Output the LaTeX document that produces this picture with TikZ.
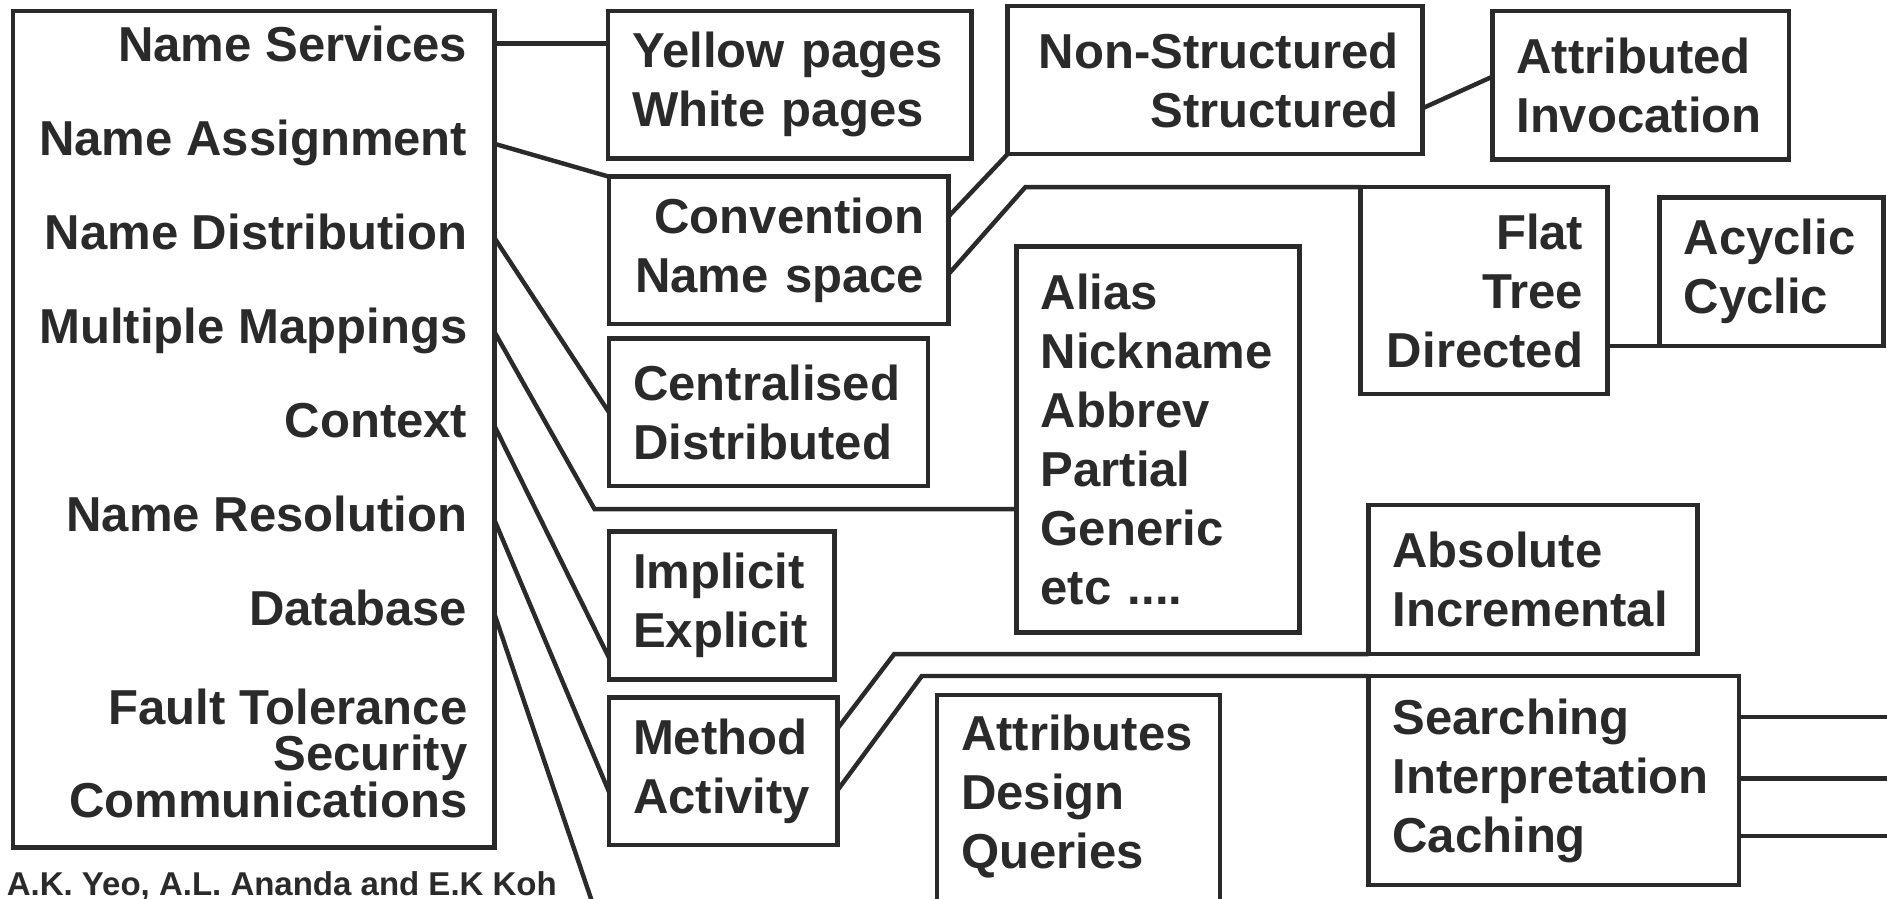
\documentclass[tikz,border=0pt]{standalone}
\usepackage{fontspec}
\setmainfont{Liberation Sans}
\definecolor{ink}{HTML}{2A2A2A}
\newcommand{\boxfont}{\fontsize{11.6}{13.94}\selectfont\bfseries}

\begin{document}
\begin{tikzpicture}[
  catbox/.style={rectangle,draw=ink,line width=1.05pt,outer sep=0pt,anchor=north west,inner xsep=0.2cm,inner ysep=0pt,align=#1,text=ink,font=\boxfont},
  catbox/.default=left,
  lbl/.style={anchor=base east,inner sep=0pt,text=ink,font=\boxfont},
  link/.style={draw=ink,line width=1.05pt},
]
\useasboundingbox (0,0) rectangle (15.68,-7.47);
\clip (0,0) rectangle (15.68,-7.47);

% === Main list of name service issues ===
\node[rectangle,draw=ink,line width=1.05pt,outer sep=0pt,anchor=north west,inner sep=0pt,minimum width=4cm,minimum height=6.95cm] (main) at (0.11,-0.091) {};

\node[lbl] (lsrv) at (3.89,-0.507) {Name Services};
\node[lbl] (lasg) at (3.89,-1.288) {Name Assignment};
\node[lbl] (ldst) at (3.89,-2.072) {Name Distribution};
\node[lbl] (lmap) at (3.89,-2.853) {Multiple Mappings};
\node[lbl] (lctx) at (3.89,-3.635) {Context};
\node[lbl] (lres) at (3.89,-4.417) {Name Resolution};
\node[lbl] (ldb)  at (3.89,-5.199) {Database};
\node[lbl] (lft)  at (3.89,-6.016) {Fault Tolerance};
\node[lbl] (lsec) at (3.89,-6.406) {Security};
\node[lbl] (lcom) at (3.89,-6.796) {Communications};

\node[anchor=base west,inner sep=0pt,text=ink,font=\fontsize{7.8}{9}\selectfont\bfseries] (credit) at (0.05,-7.437) {A.K. Yeo, A.L. Ananda and E.K Koh};

% === First level boxes ===
\node[catbox,text width=2.62cm,minimum height=1.225cm] (yp) at (5.052,-0.091) {Yellow pages\\White pages};
\node[catbox=right,text width=2.42cm,minimum height=1.224cm] (conv) at (5.06,-1.468) {Convention\\Name space};
\node[catbox,text width=2.25cm,minimum height=1.227cm] (cent) at (5.06,-2.812) {Centralised\\Distributed};
\node[catbox,text width=1.474cm,minimum height=1.227cm] (impl) at (5.06,-4.418) {Implicit\\Explicit};
\node[catbox,text width=1.50cm,minimum height=1.227cm] (meth) at (5.06,-5.795) {Method\\Activity};

% === Second level boxes ===
\node[catbox=right,text width=3.047cm,minimum height=1.23cm] (nstr) at (8.373,-0.05) {Non-Structured\\Structured};
\node[catbox,text width=2.067cm,minimum height=1.233cm] (attr) at (12.40,-0.091) {Attributed\\Invocation};
\node[catbox=right,text width=1.65cm,minimum height=1.72cm] (flat) at (11.306,-1.555) {Flat\\Tree\\Directed};
\node[catbox,text width=1.46cm,minimum height=1.235cm] (acyc) at (13.79,-1.64) {Acyclic\\Cyclic};
\node[catbox,text width=1.95cm,minimum height=3.207cm] (alias) at (8.447,-2.05) {Alias\\Nickname\\Abbrev\\Partial\\Generic\\etc ....};
\node[catbox,text width=2.335cm,minimum height=1.239cm] (abs) at (11.37,-4.196) {Absolute\\Incremental};
\node[catbox,text width=2.68cm,minimum height=1.737cm] (srch) at (11.37,-5.617) {Searching\\Interpretation\\Caching};

% Database box, open at the bottom
\node[catbox,draw=none,text width=1.95cm,minimum height=1.69cm] (dbase) at (7.786,-5.775) {Attributes\\Design\\Queries};
\draw[link] ([yshift=-0.3cm]dbase.south west) -- (dbase.north west) -- (dbase.north east) -- ([yshift=-0.3cm]dbase.south east);

% === Connectors from the main list ===
\coordinate (mapbend) at (4.94,-4.23);
\coordinate (dbend) at (4.99,-7.70);
\draw[link] (main.east |- lsrv) -- (lsrv -| yp.west);
\draw[link] (main.east |- lasg.mid) -- (conv.north west);
\draw[link] (main.east |- ldst.mid) -- (cent.west);
\draw[link] (main.east |- lmap.mid) -- (mapbend) -- (mapbend -| alias.west);
\draw[link] (main.east |- lctx.mid) -- ([yshift=0.18cm]impl.south west);
\draw[link] (main.east |- lres.mid) -- ([yshift=-0.17cm]meth.west);
\draw[link] (main.east |- ldb.mid) -- (dbend);

% === Connectors between boxes ===
\coordinate (flatbend) at (8.52,-1.555);
\coordinate (absbend) at (7.43,-5.435);
\coordinate (srchbend) at (7.66,-5.617);
\draw[link] ([yshift=0.28cm]conv.east) -- (nstr.south west);
\draw[link] ([yshift=-0.2cm]conv.east) -- (flatbend) -- (flat.north west);
\draw[link] ([yshift=-0.235cm]nstr.east) -- ([yshift=0.07cm]attr.west);
\draw[link] (acyc.south west -| flat.east) -- (acyc.south west);
\draw[link] ([yshift=0.356cm]meth.east) -- (absbend) -- (abs.south west);
\draw[link] ([yshift=-0.157cm]meth.east) -- (srchbend) -- (srch.north west);

% Resolution steps run off the right edge
\coordinate (edge) at (15.9,0);
\draw[link] ([yshift=0.53cm]srch.east) -- ([yshift=0.53cm]srch.east -| edge);
\draw[link] ([yshift=0.017cm]srch.east) -- ([yshift=0.017cm]srch.east -| edge);
\draw[link] ([yshift=-0.462cm]srch.east) -- ([yshift=-0.462cm]srch.east -| edge);

\end{tikzpicture}
\end{document}
